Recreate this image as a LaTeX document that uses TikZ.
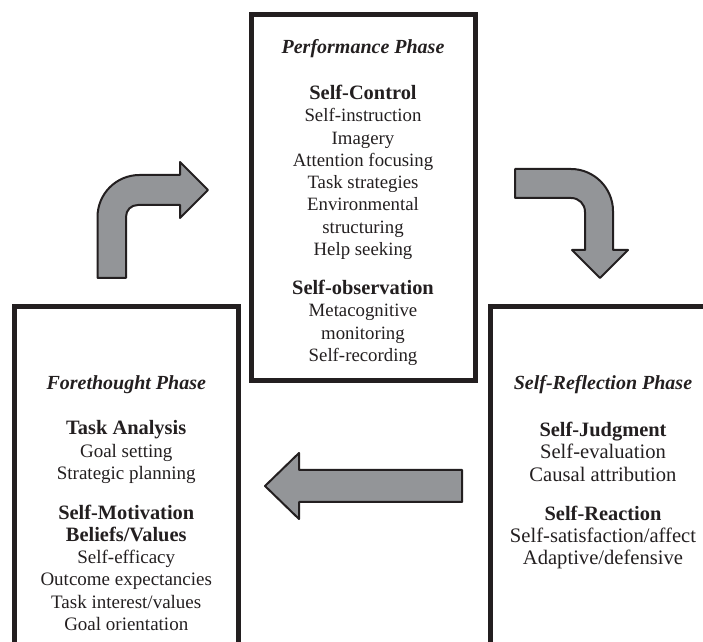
\documentclass[tikz,border=0pt]{standalone}
\usepackage{fontspec}
\setmainfont{Liberation Serif}
\usetikzlibrary{positioning}

\definecolor{inkline}{HTML}{231F20}
\definecolor{arrowgray}{HTML}{939598}

\newcommand{\phasetitle}[1]{{\fontsize{10}{11.15}\selectfont\bfseries\itshape #1}}
\newcommand{\phasehead}[1]{{\fontsize{10.2}{11.15}\selectfont\bfseries #1}}

\tikzstyle{phasebox} = [rectangle,
minimum width=112pt,
draw=inkline,
line width=2.5pt]
\tikzstyle{phasetext} = [align=center,
text=inkline,
font=\fontsize{9.4}{11.15}\selectfont,
inner sep=0pt]
\tikzstyle{blockarrow} = [draw=inkline, fill=arrowgray, line width=1pt, line join=round]

\begin{document}
\begin{tikzpicture}[x=0.5pt,y=-0.5pt]

    \useasboundingbox (0,0) rectangle (703,642);
    \clip (0,0) rectangle (703,642);

    % the three phases
    \node (perf) [phasebox, minimum height=183.25pt] at (363,197.75) {};
    \node (fore) [phasebox, minimum height=196.75pt] at (126.25,503.25) {};
    \node (refl) [phasebox, minimum height=196.75pt] at (602.5,503.25) {};

    \node (perftext) [phasetext] at (363,202.5) {%
        \phasetitle{Performance Phase}\\[11.8pt]
        \phasehead{Self-Control}\\
        Self-instruction\\
        Imagery\\
        Attention focusing\\
        Task strategies\\
        Environmental\\
        structuring\\
        Help seeking\\[8.4pt]
        \phasehead{Self-observation}\\
        Metacognitive\\
        monitoring\\
        Self-recording};

    \node (foretext) [phasetext, font=\fontsize{9.5}{11.15}\selectfont] at (126.25,503) {%
        \phasetitle{Forethought Phase}\\[11.8pt]
        \phasehead{Task Analysis}\\
        Goal setting\\
        Strategic planning\\[8.6pt]
        \phasehead{Self-Motivation}\\
        \phasehead{Beliefs/Values}\\
        Self-efficacy\\
        Outcome expectancies\\
        Task interest/values\\
        Goal orientation};

    \node (refltext) [phasetext, font=\fontsize{10.3}{11.15}\selectfont] at (603,472.5) {%
        \phasetitle{Self-Reflection Phase}\\[12.3pt]
        \phasehead{Self-Judgment}\\
        Self-evaluation\\
        Causal attribution\\[8.4pt]
        \phasehead{Self-Reaction}\\
        Self-satisfaction/affect\\
        Adaptive/defensive};

    % cycle arrows
    \draw [blockarrow] (97.5,278) -- (97.5,217)
        .. controls (97.5,194) and (116,175) .. (139.5,175)
        -- (180,175) -- (180,162) -- (208,190) -- (180,218) -- (180,205)
        -- (138,205) .. controls (131,205) and (126,210) .. (126,217)
        -- (126,278) -- cycle;
    \draw [blockarrow] (515,169) -- (571,169)
        .. controls (594,169) and (613,188) .. (613,211)
        -- (613,250) -- (628,250) -- (600,278) -- (572,250) -- (585,250)
        -- (585,212) .. controls (585,204) and (579,198) .. (571,198)
        -- (515,198) -- cycle;
    \draw [blockarrow] (462,470) -- (299,470) -- (299,453) -- (265,486)
        -- (299,519) -- (299,502) -- (462,502) -- cycle;

\end{tikzpicture}
\end{document}
